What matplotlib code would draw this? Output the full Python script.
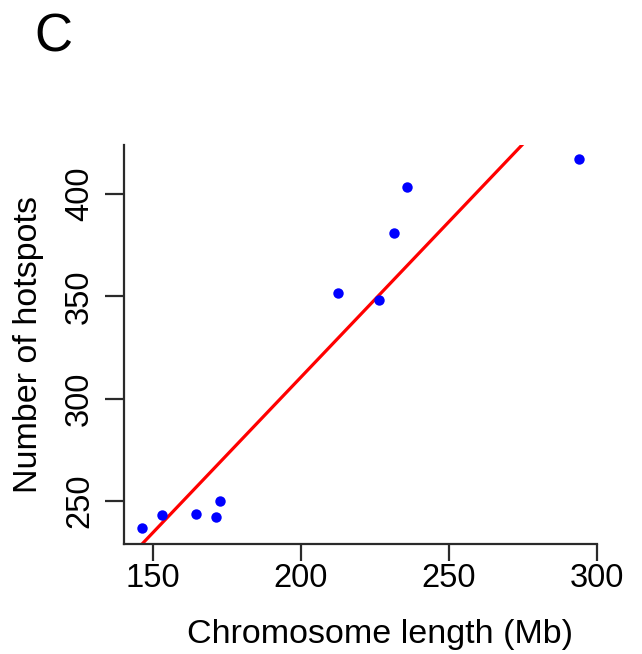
import numpy as np
import matplotlib
matplotlib.use("Agg")
import matplotlib.pyplot as plt

plt.rcParams['font.family'] = ['Liberation Sans', 'DejaVu Sans']

# chromosome length (Mb) vs number of hotspots
longitud = [146.3, 153.0, 164.7, 171.3, 172.8, 212.5, 226.6, 231.4, 236.0, 294.0]
hotspots = [237.0, 243.0, 243.8, 242.0, 249.8, 351.7, 348.2, 381.0, 403.5, 417.3]

xticks = [150, 200, 250, 300]
yticks = [250, 300, 350, 400]

# recta de regresion
pendiente, intercepto = np.polyfit(longitud, hotspots, 1)

fig = plt.figure(figsize=(6.42, 6.54), dpi=100)
ax = fig.add_axes([124.3 / 642, 110 / 654, 472.4 / 642, 399 / 654])

ax.plot(longitud, hotspots, 'o', color='blue', markersize=7.5, markeredgewidth=0, zorder=3)
ax.axline((0, intercepto), slope=pendiente, color='red', linewidth=2.3, zorder=2)

ax.set_xlim(140.4, 300)
ax.set_ylim(229, 424)

for lado in ['top', 'right']:
	ax.spines[lado].set_visible(False)
for lado in ['left', 'bottom']:
	ax.spines[lado].set_linewidth(1.6)
	ax.spines[lado].set_color('#2a2a2a')

ax.set_xticks(xticks)
ax.set_yticks(yticks)
ax.set_xticklabels([str(t) for t in xticks], fontsize=23.5)
ax.set_yticklabels([str(t) for t in yticks], fontsize=23.5, rotation=90, va='center')
ax.tick_params(axis='x', length=12, width=1.6, color='#2a2a2a', pad=2)
ax.tick_params(axis='y', length=14, width=1.6, color='#2a2a2a', pad=7)

ax.set_xlabel("Chromosome length (Mb)", fontsize=24.5)
ax.set_ylabel("Number of hotspots", fontsize=24.5)
ax.xaxis.set_label_coords(0.541, -0.188)
ax.yaxis.set_label_coords(-0.17, 0.5)

fig.text(34.5 / 642, 1 - 52 / 654, "C", fontsize=38, va='baseline', ha='left')

fig.savefig("out.png", dpi=100)
